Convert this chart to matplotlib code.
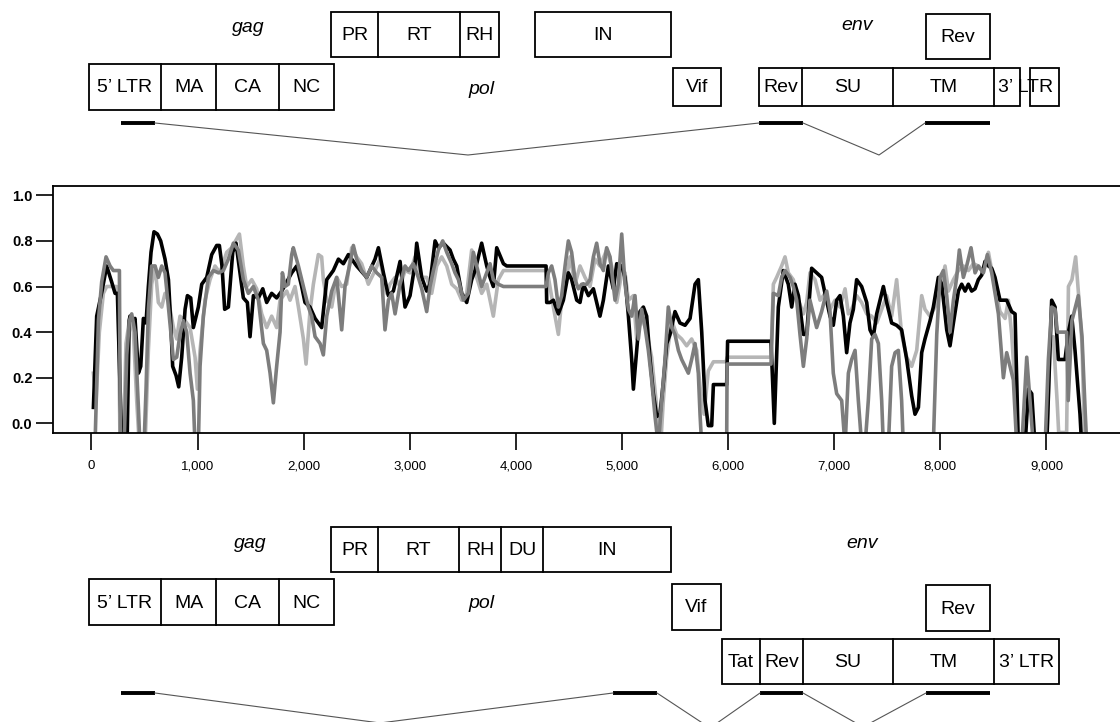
import numpy as np
import matplotlib.pyplot as plt
from matplotlib.patches import Rectangle

plt.rcParams['font.family'] = ['Liberation Sans', 'DejaVu Sans']

# ---- similarity profiles along the genome (position, value) ----
black_x = [18, 49, 99, 143, 190, 222, 244, 285, 335, 355, 363, 395, 410, 442, 464, 489, 514, 536, 561, 589,
           621, 652, 693, 725, 746, 765, 797, 822, 850, 882, 904, 935, 960, 1007, 1039, 1086, 1133, 1180, 1205, 1230,
           1255, 1290, 1331, 1362, 1394, 1431, 1469, 1494, 1526, 1573, 1614, 1651, 1698, 1745, 1793, 1840, 1887, 1934, 1981, 2012,
           2059, 2107, 2169, 2217, 2279, 2327, 2374, 2421, 2499, 2594, 2672, 2704, 2751, 2798, 2845, 2908, 2955, 3002, 3049, 3065,
           3112, 3159, 3190, 3238, 3269, 3316, 3379, 3410, 3442, 3489, 3536, 3583, 3615, 3677, 3725, 3756, 3787, 3819, 3882, 3913,
           4284, 4290, 4321, 4353, 4400, 4447, 4494, 4525, 4573, 4604, 4635, 4683, 4730, 4792, 4824, 4871, 4918, 4950, 4997, 5028,
           5060, 5091, 5107, 5138, 5169, 5201, 5232, 5264, 5295, 5327, 5358, 5389, 5421, 5452, 5499, 5546, 5594, 5641, 5688, 5719,
           5751, 5782, 5813, 5845, 5861, 5986, 5995, 6404, 6435, 6473, 6520, 6567, 6599, 6630, 6662, 6709, 6740, 6787, 6834, 6881,
           6913, 6960, 6991, 7023, 7054, 7086, 7117, 7148, 7180, 7211, 7258, 7306, 7337, 7368, 7400, 7431, 7463, 7494, 7541, 7588,
           7635, 7683, 7730, 7761, 7793, 7824, 7855, 7903, 7934, 7981, 8013, 8060, 8091, 8123, 8170, 8201, 8233, 8264, 8295, 8327,
           8358, 8390, 8421, 8453, 8484, 8515, 8562, 8625, 8672, 8704, 8735, 8798, 8830, 8861, 8892, 9002, 9049, 9081, 9112, 9175,
           9207, 9238, 9269, 9316, 9332]
black_y = [0.07, 0.47, 0.58, 0.69, 0.62, 0.57, 0.57, -0.1, -0.1, 0.45, 0.47, 0.45, 0.46, 0.22, 0.25, 0.46, 0.44, 0.60, 0.75, 0.84,
           0.83, 0.80, 0.72, 0.63, 0.45, 0.25, 0.21, 0.16, 0.29, 0.50, 0.56, 0.55, 0.42, 0.51, 0.61, 0.64, 0.74, 0.78, 0.78, 0.69,
           0.50, 0.51, 0.75, 0.79, 0.68, 0.55, 0.53, 0.38, 0.56, 0.55, 0.59, 0.53, 0.57, 0.55, 0.58, 0.62, 0.66, 0.69, 0.60, 0.53,
           0.51, 0.46, 0.42, 0.63, 0.67, 0.72, 0.70, 0.74, 0.69, 0.64, 0.72, 0.77, 0.66, 0.56, 0.58, 0.71, 0.51, 0.56, 0.70, 0.79,
           0.64, 0.58, 0.61, 0.80, 0.77, 0.79, 0.76, 0.72, 0.69, 0.57, 0.53, 0.63, 0.67, 0.79, 0.69, 0.64, 0.60, 0.77, 0.70, 0.69,
           0.69, 0.53, 0.53, 0.54, 0.48, 0.54, 0.66, 0.63, 0.54, 0.53, 0.61, 0.56, 0.59, 0.47, 0.54, 0.69, 0.59, 0.70, 0.69, 0.64,
           0.47, 0.28, 0.15, 0.32, 0.49, 0.51, 0.47, 0.28, 0.13, 0.03, 0.04, 0.18, 0.35, 0.39, 0.49, 0.44, 0.43, 0.46, 0.61, 0.63,
           0.40, 0.10, -0.01, -0.01, 0.17, 0.17, 0.36, 0.36, 0.0, 0.51, 0.67, 0.61, 0.51, 0.61, 0.56, 0.39, 0.39, 0.68, 0.66, 0.64,
           0.57, 0.47, 0.43, 0.54, 0.56, 0.47, 0.31, 0.44, 0.50, 0.63, 0.60, 0.53, 0.41, 0.38, 0.48, 0.54, 0.60, 0.53, 0.44, 0.43,
           0.41, 0.28, 0.12, 0.04, 0.07, 0.31, 0.37, 0.45, 0.51, 0.64, 0.61, 0.41, 0.34, 0.44, 0.58, 0.61, 0.58, 0.61, 0.58, 0.59,
           0.63, 0.65, 0.71, 0.69, 0.68, 0.64, 0.54, 0.54, 0.49, 0.48, -0.1, -0.1, 0.15, 0.13, -0.1, -0.1, 0.54, 0.51, 0.28, 0.28,
           0.40, 0.47, 0.32, 0.04, -0.1]

dgray_x = [33, 65, 96, 137, 175, 206, 263, 272, 307, 332, 357, 379, 410, 442, 457, 495, 514, 536, 567, 599,
           630, 662, 693, 725, 772, 803, 834, 866, 897, 929, 960, 976, 1007, 1023, 1054, 1101, 1149, 1196, 1243, 1290,
           1337, 1384, 1431, 1478, 1526, 1573, 1620, 1651, 1683, 1714, 1745, 1777, 1799, 1824, 1855, 1887, 1902, 1950, 1997, 2044,
           2075, 2107, 2154, 2185, 2217, 2264, 2311, 2358, 2389, 2436, 2468, 2499, 2546, 2594, 2641, 2688, 2735, 2766, 2798, 2829,
           2861, 2908, 2955, 2986, 3033, 3080, 3112, 3159, 3190, 3222, 3269, 3310, 3348, 3395, 3426, 3458, 3505, 3552, 3599, 3630,
           3677, 3725, 3756, 3787, 3834, 3882, 4284, 4306, 4337, 4368, 4400, 4431, 4463, 4494, 4525, 4557, 4588, 4620, 4667, 4698,
           4730, 4761, 4792, 4824, 4855, 4887, 4934, 4965, 4997, 5028, 5060, 5091, 5122, 5154, 5185, 5217, 5248, 5279, 5311, 5342,
           5374, 5405, 5436, 5468, 5499, 5531, 5562, 5594, 5625, 5656, 5688, 5719, 5735, 5751, 5986, 5990, 6404, 6426, 6473, 6504,
           6536, 6583, 6614, 6646, 6677, 6709, 6740, 6771, 6803, 6834, 6881, 6929, 6960, 6991, 7023, 7070, 7102, 7133, 7164, 7196,
           7227, 7259, 7290, 7321, 7353, 7384, 7416, 7447, 7463, 7510, 7541, 7573, 7604, 7635, 7651, 7933, 7966, 7997, 8028, 8060,
           8091, 8123, 8154, 8179, 8217, 8248, 8289, 8327, 8358, 8405, 8443, 8484, 8515, 8547, 8594, 8625, 8657, 8688, 8720, 8767,
           8814, 8845, 8877, 8987, 9018, 9049, 9081, 9103, 9190, 9205, 9240, 9300, 9335, 9365, 9380]
dgray_y = [-0.1, 0.45, 0.62, 0.73, 0.69, 0.67, 0.67, -0.1, -0.1, 0.30, 0.45, 0.48, 0.40, 0.07, -0.1, -0.1, 0.15, 0.50, 0.69, 0.69,
           0.64, 0.69, 0.66, 0.51, 0.28, 0.29, 0.39, 0.45, 0.40, 0.22, 0.10, -0.1, -0.1, 0.25, 0.47, 0.64, 0.67, 0.66, 0.67, 0.72,
           0.79, 0.76, 0.63, 0.57, 0.60, 0.54, 0.35, 0.32, 0.22, 0.09, 0.25, 0.40, 0.66, 0.60, 0.61, 0.74, 0.77, 0.69, 0.60, 0.51,
           0.47, 0.38, 0.35, 0.30, 0.47, 0.58, 0.64, 0.41, 0.60, 0.70, 0.78, 0.72, 0.67, 0.64, 0.69, 0.66, 0.64, 0.41, 0.54, 0.57,
           0.48, 0.61, 0.69, 0.67, 0.70, 0.64, 0.59, 0.49, 0.60, 0.67, 0.76, 0.80, 0.75, 0.70, 0.66, 0.63, 0.54, 0.57, 0.75, 0.69,
           0.60, 0.66, 0.70, 0.63, 0.61, 0.60, 0.60, 0.66, 0.69, 0.63, 0.51, 0.56, 0.69, 0.80, 0.75, 0.63, 0.59, 0.61, 0.61, 0.63,
           0.73, 0.79, 0.70, 0.67, 0.77, 0.73, 0.54, 0.61, 0.83, 0.61, 0.50, 0.47, 0.56, 0.37, 0.50, 0.42, 0.32, 0.19, 0.03, -0.1,
           0.10, 0.28, 0.51, 0.42, 0.39, 0.32, 0.28, 0.25, 0.22, 0.28, 0.35, 0.22, 0.04, -0.1, -0.1, 0.26, 0.26, 0.57, 0.56, 0.64,
           0.67, 0.64, 0.60, 0.54, 0.39, 0.25, 0.37, 0.54, 0.48, 0.42, 0.49, 0.58, 0.49, 0.22, 0.13, 0.10, -0.1, 0.22, 0.28, 0.32,
           0.10, -0.1, -0.1, 0.10, 0.37, 0.39, 0.35, 0.10, -0.1, -0.1, 0.25, 0.31, 0.32, 0.10, -0.1, -0.1, 0.39, 0.64, 0.67, 0.56,
           0.40, 0.54, 0.64, 0.76, 0.64, 0.69, 0.77, 0.66, 0.69, 0.66, 0.74, 0.66, 0.57, 0.48, 0.20, 0.31, 0.25, 0.19, -0.1, -0.1,
           0.29, 0.10, -0.1, -0.1, 0.28, 0.51, 0.50, 0.40, 0.40, 0.10, 0.45, 0.56, 0.38, 0.05, -0.1]

lgray_x = [18, 43, 74, 112, 143, 190, 238, 253, 269, 300, 325, 363, 395, 426, 451, 505, 536, 567, 599, 630,
           662, 693, 725, 772, 803, 834, 882, 929, 976, 998, 1023, 1070, 1117, 1164, 1211, 1274, 1321, 1394, 1431, 1463,
           1510, 1557, 1604, 1651, 1698, 1745, 1777, 1808, 1840, 1871, 1918, 1950, 1997, 2022, 2059, 2091, 2138, 2169, 2185, 2217,
           2264, 2311, 2358, 2405, 2452, 2499, 2546, 2609, 2672, 2719, 2751, 2782, 2813, 2861, 2908, 2955, 3002, 3049, 3080, 3112,
           3159, 3206, 3253, 3300, 3348, 3395, 3442, 3489, 3536, 3583, 3630, 3677, 3725, 3787, 3834, 3882, 4284, 4306, 4353, 4400,
           4431, 4463, 4510, 4557, 4604, 4651, 4698, 4745, 4792, 4855, 4902, 4950, 4997, 5028, 5060, 5107, 5138, 5185, 5232, 5279,
           5327, 5364, 5389, 5421, 5468, 5515, 5562, 5609, 5656, 5704, 5735, 5773, 5813, 5861, 5980, 5992, 6404, 6426, 6457, 6504,
           6536, 6567, 6614, 6662, 6709, 6740, 6771, 6819, 6866, 6913, 6960, 7007, 7054, 7102, 7133, 7164, 7211, 7258, 7306, 7353,
           7400, 7447, 7494, 7541, 7588, 7635, 7683, 7730, 7777, 7824, 7855, 7902, 7950, 7997, 8044, 8076, 8123, 8170, 8217, 8264,
           8311, 8358, 8405, 8453, 8484, 8531, 8562, 8610, 8641, 8672, 8704, 8726, 9002, 9034, 9065, 9100, 9115, 9190, 9207, 9240,
           9275, 9305, 9335, 9360]
lgray_y = [0.22, 0.10, 0.40, 0.57, 0.60, 0.60, 0.60, 0.55, -0.1, -0.1, 0.35, 0.47, 0.40, 0.10, -0.1, -0.1, 0.32, 0.61, 0.69, 0.53,
           0.51, 0.57, 0.54, 0.42, 0.37, 0.47, 0.45, 0.42, 0.29, 0.15, 0.32, 0.54, 0.63, 0.69, 0.66, 0.75, 0.77, 0.83, 0.69, 0.60,
           0.63, 0.59, 0.48, 0.42, 0.47, 0.42, 0.54, 0.56, 0.58, 0.54, 0.60, 0.51, 0.37, 0.26, 0.49, 0.61, 0.74, 0.73, 0.63, 0.54,
           0.51, 0.64, 0.60, 0.61, 0.77, 0.73, 0.70, 0.61, 0.67, 0.72, 0.64, 0.57, 0.61, 0.64, 0.60, 0.67, 0.66, 0.73, 0.69, 0.64,
           0.64, 0.57, 0.69, 0.73, 0.69, 0.61, 0.59, 0.54, 0.57, 0.76, 0.64, 0.57, 0.61, 0.47, 0.63, 0.67, 0.67, 0.64, 0.51, 0.39,
           0.54, 0.60, 0.73, 0.61, 0.69, 0.64, 0.60, 0.72, 0.69, 0.76, 0.69, 0.53, 0.66, 0.66, 0.54, 0.56, 0.37, 0.47, 0.40, 0.29,
           0.07, -0.1, 0.10, 0.29, 0.45, 0.39, 0.37, 0.34, 0.37, 0.32, 0.16, 0.04, 0.23, 0.27, 0.27, 0.29, 0.29, 0.61, 0.64, 0.69,
           0.73, 0.66, 0.63, 0.54, 0.48, 0.53, 0.66, 0.63, 0.54, 0.57, 0.50, 0.54, 0.51, 0.59, 0.48, 0.50, 0.56, 0.53, 0.48, 0.47,
           0.44, 0.50, 0.56, 0.47, 0.63, 0.39, 0.29, 0.25, 0.32, 0.56, 0.50, 0.47, 0.51, 0.58, 0.69, 0.58, 0.63, 0.67, 0.69, 0.67,
           0.70, 0.69, 0.66, 0.75, 0.67, 0.56, 0.49, 0.46, 0.54, 0.39, 0.16, -0.1, -0.1, 0.37, 0.38, 0.10, -0.04, -0.04, 0.60, 0.63,
           0.73, 0.55, 0.35, -0.1]

xticks = [0, 1000, 2000, 3000, 4000, 5000, 6000, 7000, 8000, 9000]
yticks = [0.0, 0.2, 0.4, 0.6, 0.8, 1.0]

fig = plt.figure(figsize=(11.2, 7.22), dpi=100)

# canvas for the genome maps, in pixel units
cv = fig.add_axes([0, 0, 1, 1])
cv.set_xlim(0, 1120)
cv.set_ylim(722, 0)
cv.axis('off')

FS = 14

def box(x0, x1, y0, y1, divs=(), labels=()):
    cv.add_patch(Rectangle((x0, y0), x1 - x0, y1 - y0, fill=False, ec='black', lw=1.3))
    for d in divs:
        cv.plot([d, d], [y0, y1], color='black', lw=1.3)
    edges = [x0] + list(divs) + [x1]
    for i, lab in enumerate(labels):
        cv.text((edges[i] + edges[i + 1]) / 2, (y0 + y1) / 2 + 1, lab, ha='center', va='center', fontsize=FS)

def bar(x0, x1, y):
    cv.plot([x0, x1], [y, y], color='black', lw=2.8, solid_capstyle='butt')

def link(pts):
    xs, ys = zip(*pts)
    cv.plot(xs, ys, color='#555555', lw=0.8)

# top map
box(331, 499, 12, 57, [378, 460], ['PR', 'RT', 'RH'])
box(535, 671, 12, 57, [], ['IN'])
box(89, 334, 64, 110, [161, 216, 279], ['5’ LTR', 'MA', 'CA', 'NC'])
box(673, 721, 68, 106, [], ['Vif'])
box(759, 1020, 68, 106, [802, 893, 994], ['Rev', 'SU', 'TM'])
box(1030, 1059, 68, 106)
cv.text(1026, 88, '3’ LTR', ha='center', va='center', fontsize=FS)
box(926, 990, 14, 59, [], ['Rev'])
cv.text(248, 27, 'gag', ha='center', va='center', fontsize=FS, style='italic')
cv.text(482, 89, 'pol', ha='center', va='center', fontsize=FS, style='italic')
cv.text(857, 26, 'env', ha='center', va='center', fontsize=FS, style='italic')
bar(121, 155, 123)
bar(759, 803, 123)
bar(925, 990, 123)
link([(155, 123), (468, 155), (759, 123)])
link([(803, 123), (879, 155), (925, 123)])

# bottom map
box(331, 671, 527, 572, [378, 459, 501, 543], ['PR', 'RT', 'RH', 'DU', 'IN'])
box(89, 334, 579, 625, [161, 216, 279], ['5’ LTR', 'MA', 'CA', 'NC'])
box(672, 721, 584, 630, [], ['Vif'])
box(926, 990, 585, 631, [], ['Rev'])
box(722, 1059, 639, 684, [760, 803, 893, 994], ['Tat', 'Rev', 'SU', 'TM', '3’ LTR'])
cv.text(250, 544, 'gag', ha='center', va='center', fontsize=FS, style='italic')
cv.text(482, 604, 'pol', ha='center', va='center', fontsize=FS, style='italic')
cv.text(862, 544, 'env', ha='center', va='center', fontsize=FS, style='italic')
bar(121, 155, 693)
bar(613, 657, 693)
bar(760, 803, 693)
bar(926, 990, 693)
link([(155, 693), (380, 723), (613, 693)])
link([(657, 693), (710, 728), (760, 693)])
link([(803, 693), (863, 727), (926, 693)])

# similarity plot
ax = fig.add_axes([53.3 / 1120, (722 - 432.7) / 722, 1 - 53.3 / 1120, (432.7 - 185.7) / 722])
ax.plot(lgray_x, lgray_y, color='#b5b5b5', lw=2.6)
ax.plot(black_x, black_y, color='black', lw=2.6)
ax.plot(dgray_x, dgray_y, color='#7d7d7d', lw=2.6)
ax.set_xlim(-360, 9693)
ax.set_ylim(-0.041, 1.042)
ax.spines['right'].set_visible(False)
for s in ['left', 'bottom', 'top']:
    ax.spines[s].set_linewidth(1.3)
ax.set_xticks(xticks)
ax.set_xticklabels(['{:,}'.format(v) for v in xticks])
ax.set_yticks(yticks)
ax.set_yticklabels(['{:.1f}'.format(v) for v in yticks], fontweight='bold')
ax.tick_params(axis='y', direction='out', length=12, width=1.2, pad=3, labelsize=10.5)
ax.tick_params(axis='x', direction='out', length=12, width=1.2, pad=8, labelsize=9.5)

fig.savefig('out.png', dpi=100)
